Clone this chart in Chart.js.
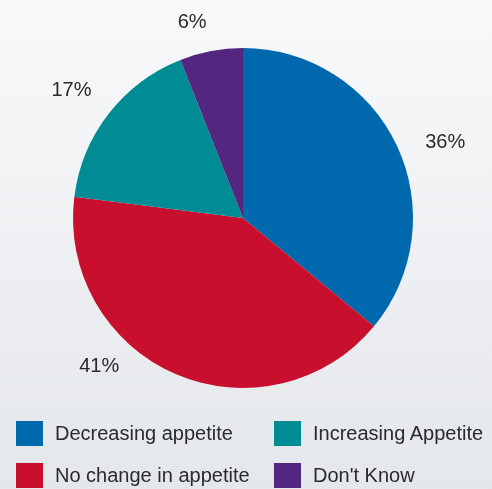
<!DOCTYPE html>
<html lang="en">
<head>
  <meta charset="UTF-8">
  <title>Appetite</title>
  <script src="https://cdn.jsdelivr.net/npm/chart.js"></script>
  <style>
    html, body { margin: 0; padding: 0; }
    body {
      width: 492px; height: 489px; overflow: hidden; position: relative;
      background: linear-gradient(#f8f9fa, #e4e7eb);
      font-family: "Liberation Sans", Arial, sans-serif;
      color: #2a2a2a;
    }
    #wrap { position: absolute; left: 0; top: 0; width: 492px; height: 489px; }
    #legend { position: absolute; left: 0; top: 421px; width: 492px; }
    .item { position: absolute; display: flex; align-items: center; font-size: 20px; white-space: nowrap; }
    .box { width: 27px; height: 25px; margin-right: 12px; }
  </style>
</head>
<body>
  <div id="wrap"><canvas id="pie" width="492" height="489"></canvas></div>
  <div id="legend"></div>

  <script>
    const labels = ['Decreasing appetite', 'No change in appetite', 'Increasing Appetite', "Don't Know"];
    const values = [36, 41, 17, 6];
    const colors = ['#0068ac', '#c8102e', '#008c95', '#53267f'];

    // label placement tweaks per slice (degrees off the slice middle, distance from centre)
    const labelShift = [4.6, 20.6, -1.1, -3.8];
    const labelDist = [216, 207, 214, 202];

    const outsideLabels = {
      id: 'outsideLabels',
      afterDatasetsDraw(chart) {
        const ctx = chart.ctx;
        const meta = chart.getDatasetMeta(0);
        ctx.save();
        ctx.font = '20px "Liberation Sans", Arial, sans-serif';
        ctx.fillStyle = '#2a2a2a';
        ctx.textAlign = 'center';
        ctx.textBaseline = 'middle';
        meta.data.forEach((arc, i) => {
          const mid = (arc.startAngle + arc.endAngle) / 2 + labelShift[i] * Math.PI / 180;
          const x = arc.x + Math.cos(mid) * labelDist[i];
          const y = arc.y + Math.sin(mid) * labelDist[i];
          ctx.fillText(values[i] + '%', x, y);
        });
        ctx.restore();
      }
    };

    new Chart(document.getElementById('pie'), {
      type: 'pie',
      data: {
        labels: labels,
        datasets: [{
          data: values,
          backgroundColor: colors,
          borderWidth: 0
        }]
      },
      options: {
        responsive: false,
        animation: false,
        layout: { padding: { top: 48, bottom: 101, left: 73, right: 79 } },
        plugins: {
          legend: { display: false },
          tooltip: { enabled: false }
        }
      },
      plugins: [outsideLabels]
    });

    // two-column legend under the pie
    const legend = document.getElementById('legend');
    const order = [0, 2, 1, 3];
    order.forEach((idx, n) => {
      const item = document.createElement('div');
      item.className = 'item';
      item.style.left = (n % 2 === 0 ? 16 : 274) + 'px';
      item.style.top = (Math.floor(n / 2) * 42) + 'px';
      item.innerHTML = '<span class="box" style="background:' + colors[idx] + '"></span>';
      item.appendChild(document.createTextNode(labels[idx]));
      legend.appendChild(item);
    });
  </script>
</body>
</html>
